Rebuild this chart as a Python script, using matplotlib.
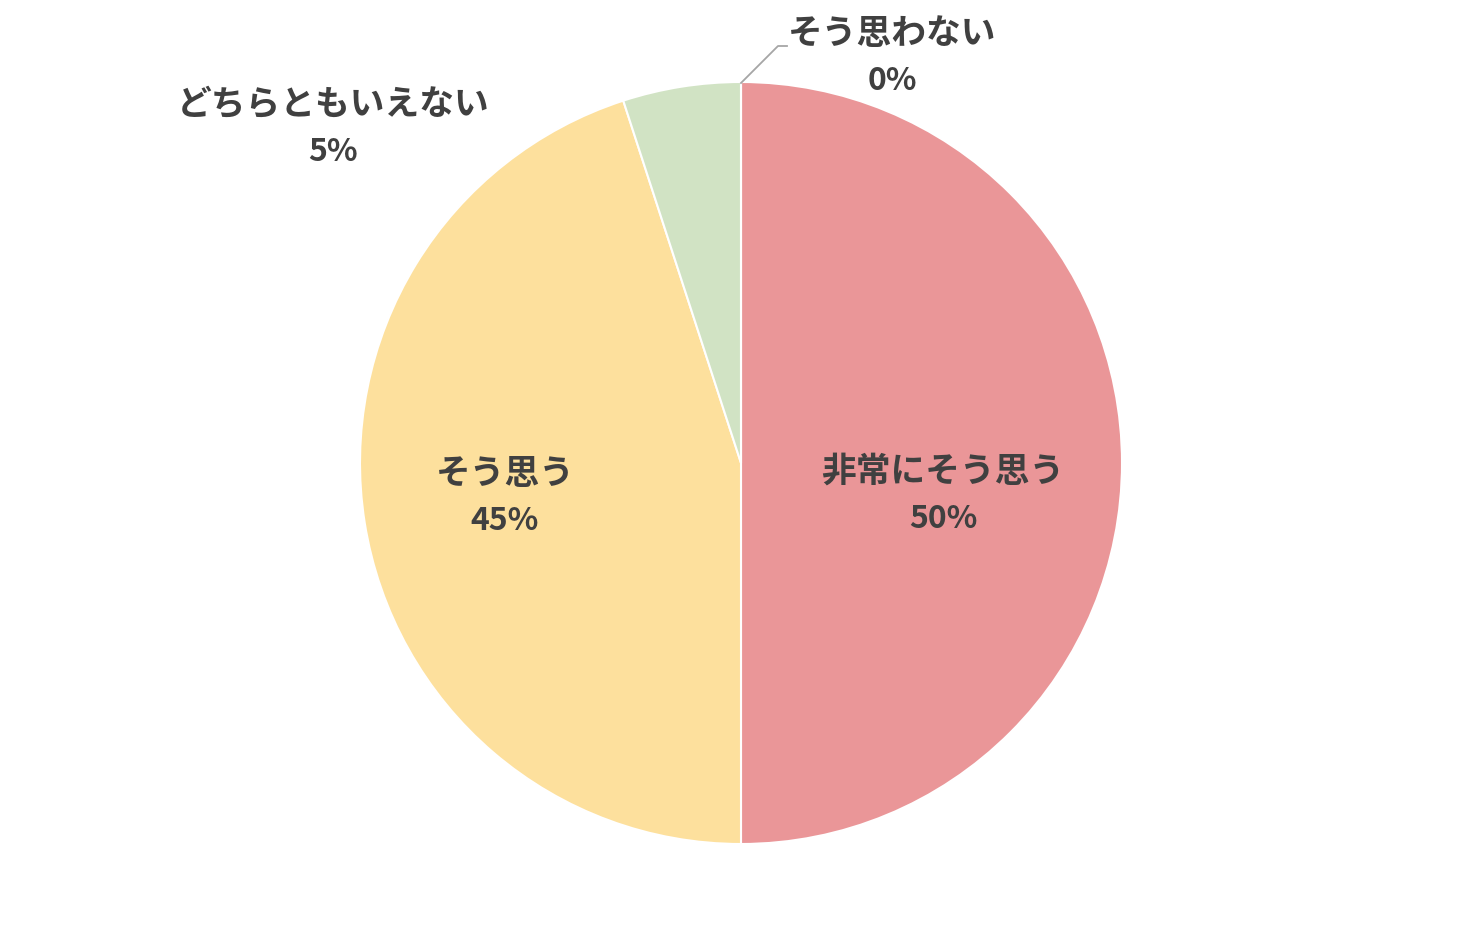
import matplotlib
matplotlib.use("Agg")
import matplotlib.pyplot as plt

plt.rcParams['font.family'] = ['Noto Sans CJK JP', 'DejaVu Sans']

# === Data ===
labels = ["非常にそう思う", "そう思う", "どちらともいえない", "そう思わない"]
values = [50, 45, 5, 0]
colors = ["#EA9698", "#FDE09D", "#D1E3C4", "#C9C9C9"]

# label centres in pixel coords (top-left origin)
label_pos = [(943, 471), (505, 473), (333, 104), (892, 33)]

W, H = 1482, 927
fig = plt.figure(figsize=(W / 100, H / 100), dpi=100)
ax = fig.add_axes([0, 0, 1, 1])
ax.set_xlim(0, W)
ax.set_ylim(0, H)
ax.set_aspect('equal')
ax.axis('off')

cx, cy, r = 741, H - 463, 381
ax.pie(values, colors=colors, startangle=90, counterclock=False,
       center=(cx, cy), radius=r, frame=True,
       wedgeprops=dict(edgecolor='white', linewidth=1.5))
ax.set_xlim(0, W)
ax.set_ylim(0, H)
ax.axis('off')

total = sum(values)
for lab, v, (px, py) in zip(labels, values, label_pos):
    ax.text(px, H - py, lab, ha='center', va='center', fontsize=25,
            fontweight='bold', color='#404040')
    ax.text(px, H - py - 48, f"{round(v / total * 100)}%", ha='center', va='center',
            fontsize=23, fontweight='bold', color='#404040')

# leader line for the 0% slice
ax.plot([741, 778, 787], [H - 83, H - 46, H - 46], color='#A6A6A6', lw=1.3)

fig.savefig("out.png", dpi=100)
